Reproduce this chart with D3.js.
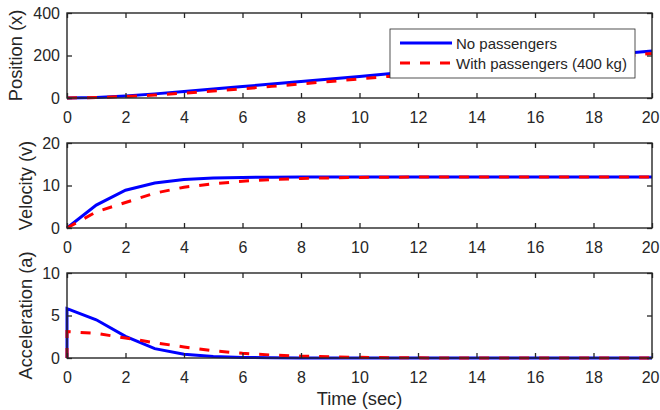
<!DOCTYPE html>
<html><head><meta charset="utf-8">
<script src="https://cdn.jsdelivr.net/npm/d3@7"></script>
<style>body{margin:0;background:#fff}svg{display:block}text{font-family:"Liberation Sans",Arial,sans-serif;fill:#262626}</style>
</head><body>
<svg id="c" width="660" height="410"></svg>
<script>
const time = [0,0,1,2,3,4,5,6,7,8,9,10,11,12,13,14,15,16,17,18,19,20];
const posNo = [0,0,2.6,9.7,19.4,30.4,42,53.8,65.7,77.7,89.7,101.7,113.7,125.7,137.7,149.7,161.7,173.7,185.7,197.7,209.7,221.7];
const posWith = [0,0,1.9,6.8,13.9,22.8,32.8,43.5,54.7,66.2,77.9,89.8,101.7,113.7,125.7,137.7,149.7,161.7,173.7,185.7,197.7,209.7];
const velNo = [0,0,5.4,8.9,10.6,11.4,11.75,11.9,11.95,12,12,12,12,12,12,12,12,12,12,12,12,12];
const velWith = [0,0,3.8,6.0,8.2,9.6,10.4,11.0,11.4,11.65,11.8,11.9,11.95,12,12,12,12,12,12,12,12,12];
const accNo = [0,5.8,4.5,2.55,1.1,0.45,0.18,0.07,0.03,0.01,0,0,0,0,0,0,0,0,0,0,0,0];
const accWith = [0,3.1,2.9,2.35,1.8,1.3,0.85,0.55,0.35,0.22,0.13,0.08,0.04,0.02,0,0,0,0,0,0,0,0];
const xTicks = [0,2,4,6,8,10,12,14,16,18,20];
const seriesNames = ["No passengers","With passengers (400 kg)"];
const panels = [
  {label:"Position (x)", yMax:400, yTicks:[0,200,400], a:posNo, b:posWith},
  {label:"Velocity (v)", yMax:20, yTicks:[0,10,20], a:velNo, b:velWith},
  {label:"Acceleration (a)", yMax:10, yTicks:[0,5,10], a:accNo, b:accWith}
];
const xLabel = "Time (sec)";

const svg = d3.select("#c");
const L = 67, R = 652, H = 85, tops = [13,143,273], labX = [15,25,25];
const ax = "#262626";
const x = d3.scaleLinear().domain([0,20]).range([L,R]);

panels.forEach((p,i)=>{
  const top = tops[i], bot = top+H;
  const y = d3.scaleLinear().domain([0,p.yMax]).range([bot,top]);
  const g = svg.append("g");
  const line = d3.line().x((d,k)=>x(time[k])).y(d=>y(d));
  g.append("path").datum(p.a).attr("d",line).attr("fill","none").attr("stroke","#0000ff").attr("stroke-width",3);
  g.append("path").datum(p.b).attr("d",line).attr("fill","none").attr("stroke","#ff0000").attr("stroke-width",3).attr("stroke-dasharray","10,10");

  const mk = (axis, tr) => {
    const a = g.append("g").attr("transform",tr).call(axis);
    a.select(".domain").remove();
    a.selectAll(".tick line").attr("stroke",ax).attr("stroke-width",1.3);
    a.selectAll("text").attr("font-size",16).attr("fill",ax);
    return a;
  };
  const bx = mk(d3.axisBottom(x).tickValues(xTicks).tickSize(-5).tickPadding(14).tickFormat(d3.format("d")), `translate(0,${bot})`);
  bx.selectAll(".tick text").filter(d=>d===20).attr("text-anchor","end").attr("x",7);
  mk(d3.axisTop(x).tickValues(xTicks).tickSize(-5).tickFormat(""), `translate(0,${top})`);
  mk(d3.axisLeft(y).tickValues(p.yTicks).tickSize(-5).tickPadding(7).tickFormat(d3.format("d")), `translate(${L},0)`);
  mk(d3.axisRight(y).tickValues(p.yTicks).tickSize(-5).tickFormat(""), `translate(${R},0)`);
  g.append("rect").attr("x",L).attr("y",top).attr("width",R-L).attr("height",H)
    .attr("fill","none").attr("stroke",ax).attr("stroke-width",1.4);
  g.append("text").attr("transform",`translate(${labX[i]},${(top+bot)/2}) rotate(-90)`)
    .attr("text-anchor","middle").attr("dominant-baseline","central").attr("font-size",18.3).text(p.label);

  if(i===0){
    const lg = svg.append("g");
    lg.append("rect").attr("x",390).attr("y",29).attr("width",245).attr("height",49)
      .attr("fill","#fff").attr("stroke",ax).attr("stroke-width",0.8);
    const rows = [{c:"#0000ff",d:null,yy:43},{c:"#ff0000",d:"10,10",yy:63}];
    rows.forEach((r,k)=>{
      const ln = lg.append("line").attr("x1",400).attr("x2",452).attr("y1",r.yy).attr("y2",r.yy)
        .attr("stroke",r.c).attr("stroke-width",3);
      if(r.d) ln.attr("stroke-dasharray",r.d);
      lg.append("text").attr("x",456).attr("y",r.yy).attr("dominant-baseline","central")
        .attr("font-size",15).text(seriesNames[k]);
    });
  }
});
svg.append("text").attr("x",(L+R)/2).attr("y",405).attr("text-anchor","middle").attr("font-size",18.3).text(xLabel);
</script>
</body></html>
